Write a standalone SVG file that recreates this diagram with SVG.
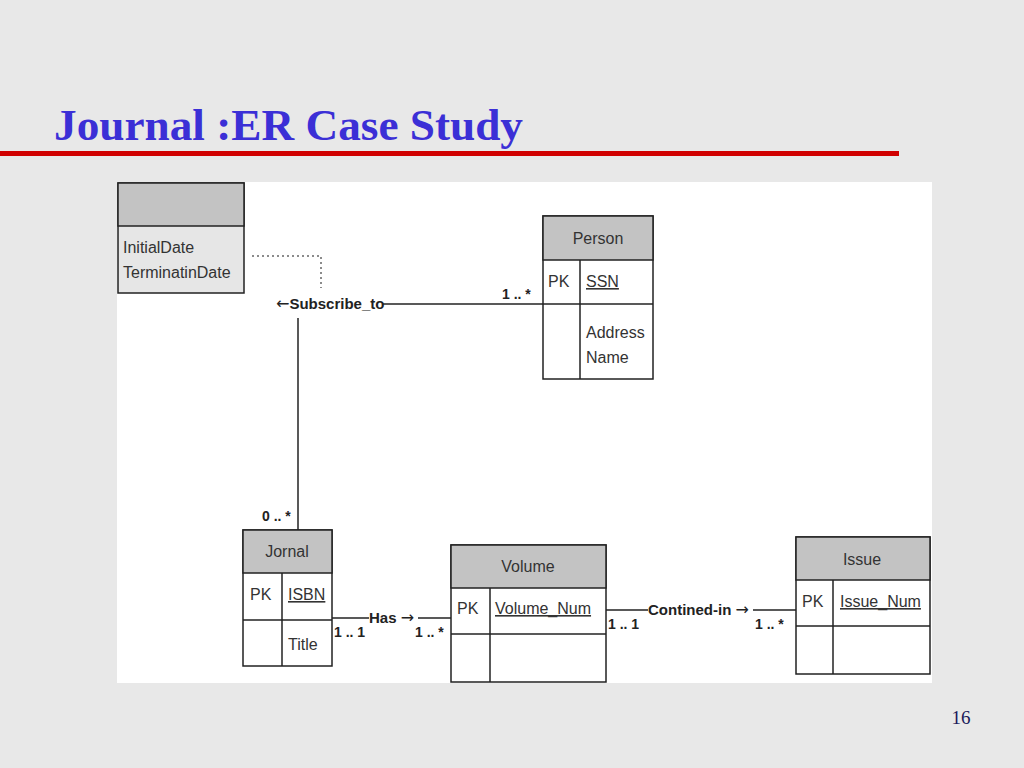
<svg xmlns="http://www.w3.org/2000/svg" width="1024" height="768" viewBox="0 0 1024 768">
<defs>
<style>
.bg{fill:#e8e8e8}
.box{fill:#ffffff;stroke:#222;stroke-width:1.5}
.hdr{fill:#c3c3c3;stroke:#222;stroke-width:1.5}
.ln{stroke:#222;stroke-width:1.5;fill:none}
.t{font-family:"Liberation Sans",Arial,sans-serif;font-size:16px;fill:#333}
.u{text-decoration:underline}
.c{text-anchor:middle}
.lb{font-family:"Liberation Sans",Arial,sans-serif;font-size:15px;font-weight:bold;fill:#222}
.ar{font-family:"DejaVu Sans",sans-serif;font-size:16px;font-weight:normal}
.m{font-family:"Liberation Sans",Arial,sans-serif;font-size:14px;font-weight:bold;fill:#222}
</style>
</defs>
<rect class="bg" x="0" y="0" width="1024" height="768"/>
<text x="54" y="140" font-family="'Liberation Serif','Times New Roman',serif" font-size="44" font-weight="bold" fill="#3b2fd6" textLength="469" lengthAdjust="spacingAndGlyphs">Journal :ER Case Study</text>
<rect x="0" y="151" width="899" height="5" fill="#d00000"/>
<rect x="117" y="182" width="815" height="501" fill="#ffffff"/>
<text x="961" y="724" font-family="'Liberation Serif','Times New Roman',serif" font-size="19" fill="#1a1a5a" text-anchor="middle">16</text>

<g id="connectors">
<polyline points="252,256 321,256 321,288" fill="none" stroke="#666" stroke-width="1.5" stroke-dasharray="2,3"/>
<line class="ln" x1="383" y1="304" x2="543" y2="304"/>
<line class="ln" x1="298" y1="318" x2="298" y2="530"/>
<text class="lb" x="276" y="309"><tspan class="ar">←</tspan>Subscribe_to</text>
<text class="m" x="502" y="299">1 .. *</text>
<text class="m" x="262" y="521">0 .. *</text>
<line class="ln" x1="332" y1="618" x2="369" y2="618"/>
<line class="ln" x1="418" y1="618" x2="451" y2="618"/>
<text class="lb" x="369" y="623">Has <tspan class="ar">→</tspan></text>
<text class="m" x="334" y="637">1 .. 1</text>
<text class="m" x="415" y="637">1 .. *</text>
<line class="ln" x1="606" y1="610" x2="648" y2="610"/>
<line class="ln" x1="753" y1="610" x2="796" y2="610"/>
<text class="lb" x="648" y="615">Contined-in <tspan class="ar">→</tspan></text>
<text class="m" x="608" y="629">1 .. 1</text>
<text class="m" x="755" y="629">1 .. *</text>
</g>

<g id="subscription">
<rect x="118" y="183" width="126" height="110" fill="#e6e6e6" stroke="#222" stroke-width="1.5"/>
<rect class="hdr" x="118" y="183" width="126" height="43"/>
<text class="t" x="123" y="253">InitialDate</text>
<text class="t" x="123" y="278">TerminatinDate</text>
</g>

<g id="person">
<rect class="box" x="543" y="216" width="110" height="163"/>
<rect class="hdr" x="543" y="216" width="110" height="44"/>
<line class="ln" x1="543" y1="304" x2="653" y2="304"/>
<line class="ln" x1="580" y1="260" x2="580" y2="379"/>
<text class="t c" x="598" y="244">Person</text>
<text class="t" x="548" y="287">PK</text>
<text class="t u" x="586" y="287">SSN</text>
<text class="t" x="586" y="338">Address</text>
<text class="t" x="586" y="363">Name</text>
</g>

<g id="jornal">
<rect class="box" x="243" y="530" width="89" height="136"/>
<rect class="hdr" x="243" y="530" width="89" height="43"/>
<line class="ln" x1="243" y1="620" x2="332" y2="620"/>
<line class="ln" x1="282" y1="573" x2="282" y2="666"/>
<text class="t c" x="287" y="557">Jornal</text>
<text class="t" x="250" y="600">PK</text>
<text class="t u" x="288" y="600">ISBN</text>
<text class="t" x="288" y="650">Title</text>
</g>

<g id="volume">
<rect class="box" x="451" y="545" width="155" height="137"/>
<rect class="hdr" x="451" y="545" width="155" height="43"/>
<line class="ln" x1="451" y1="634" x2="606" y2="634"/>
<line class="ln" x1="490" y1="588" x2="490" y2="682"/>
<text class="t c" x="528" y="572">Volume</text>
<text class="t" x="457" y="614">PK</text>
<text class="t u" x="495" y="614">Volume_Num</text>
</g>

<g id="issue">
<rect class="box" x="796" y="537" width="134" height="137"/>
<rect class="hdr" x="796" y="537" width="134" height="43"/>
<line class="ln" x1="796" y1="626" x2="930" y2="626"/>
<line class="ln" x1="833" y1="580" x2="833" y2="674"/>
<text class="t c" x="862" y="565">Issue</text>
<text class="t" x="802" y="607">PK</text>
<text class="t u" x="840" y="607">Issue_Num</text>
</g>
</svg>
